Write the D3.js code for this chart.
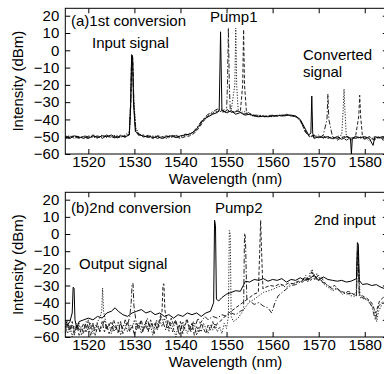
<!DOCTYPE html>
<html><head><meta charset="utf-8">
<script src="https://cdn.jsdelivr.net/npm/d3@7"></script>
<style>
body{margin:0;background:#fff}
svg{display:block}
text{font-family:"Liberation Sans",Arial,sans-serif;fill:#000}
</style>
</head><body>
<svg id="c" width="384" height="374"></svg>
<script>
// ---------- tick labels ----------
const xTicks = [1520,1530,1540,1550,1560,1570,1580];
const yTicks = [20,10,0,-10,-20,-30,-40,-50,-60];
const xDomain = [1515,1585];
const yDomain = [-60,24.3];

// ---------- panel (a): 1st conversion, [wavelength nm, dBm] ----------
const a1 = [[1515,-50.5],[1516,-51],[1517,-49.5],[1518,-50.5],[1519,-50],[1520,-51],[1521,-49.5],[1522,-50.5],[1523,-49.5],[1524,-50],[1525,-49],[1526,-50.5],[1527,-49.5],[1528,-50],[1528.9,-49],[1529.2,-30],[1529.4,-2.5],[1529.6,-3],[1529.8,-30],[1530.2,-47],[1531,-48.5],[1532,-50],[1533,-49.5],[1534,-50.5],[1535,-50],[1536,-51],[1537,-50],[1538,-49.5],[1539,-50.5],[1540,-49.5],[1541,-49],[1542,-48.5],[1543,-47],[1544,-44],[1545,-40],[1546,-38.5],[1547,-37],[1548,-36],[1548.4,-35],[1548.6,-5],[1548.7,10.7],[1548.8,-5],[1549,-35],[1550,-36],[1551,-35],[1552,-37],[1553,-36],[1554,-37.5],[1555,-37],[1556,-38],[1557,-38.5],[1558,-38],[1559,-38.5],[1560,-38],[1561,-38],[1562,-37.5],[1563,-37.5],[1564,-37.5],[1565,-38],[1566,-40],[1567,-45],[1567.8,-49],[1568.3,-48],[1568.5,-26.5],[1568.7,-48],[1569,-51],[1570,-50],[1571,-50.5],[1572,-50],[1573,-51],[1574,-50],[1575,-51.5],[1576,-50],[1576.9,-51],[1577.1,-60],[1577.3,-51],[1578,-50],[1579,-50.5],[1580,-50],[1581,-51],[1581.8,-55],[1582.2,-50],[1583,-50.5],[1584,-50],[1585,-50.5]];
const a2 = [[1515,-49.5],[1516,-50.5],[1517,-50],[1518,-51],[1519,-49.5],[1520,-50],[1521,-50.5],[1522,-49.5],[1523,-50.5],[1524,-49],[1525,-50.5],[1526,-50],[1527,-49],[1528,-50.5],[1528.9,-48],[1529.2,-28],[1529.4,-3.5],[1529.6,-4],[1529.9,-32],[1530.3,-46],[1531,-49],[1532,-49.5],[1533,-50.5],[1534,-49.5],[1535,-51],[1536,-50],[1537,-49.5],[1538,-50.5],[1539,-49.5],[1540,-50],[1541,-48.5],[1542,-49],[1543,-46.5],[1544,-43],[1545,-39.5],[1546,-37],[1547,-35.5],[1548,-34],[1549,-36],[1550,-35],[1550.2,-20],[1550.4,12.9],[1550.6,-20],[1550.8,-34],[1551.5,-36],[1552.5,-35],[1553.5,-37],[1554.5,-36.5],[1555.5,-38],[1556.5,-37.5],[1557.5,-38],[1558.5,-38.5],[1559.5,-37.5],[1560.5,-38],[1561.5,-37.5],[1562.5,-38],[1563.5,-37.5],[1564.5,-38],[1565.5,-39],[1566.3,-42],[1567,-47],[1568,-50],[1569,-49],[1570,-51],[1571,-49],[1571.8,-40],[1572,-25.3],[1572.2,-40],[1573,-50],[1574,-51],[1575,-50],[1576,-52],[1577,-50.5],[1578,-51],[1579,-50],[1580,-51.5],[1581,-50],[1582,-52],[1583,-50.5],[1584,-51],[1585,-50]];
const a3 = [[1515,-50],[1516,-49.5],[1517,-51],[1518,-50],[1519,-51],[1520,-49.5],[1521,-50],[1522,-51],[1523,-49],[1524,-50.5],[1525,-50],[1526,-49],[1527,-50.5],[1528,-49],[1528.9,-47],[1529.2,-31],[1529.4,-4],[1529.6,-3.5],[1529.9,-30],[1530.3,-45],[1531,-48],[1532,-50.5],[1533,-49],[1534,-50],[1535,-49.5],[1536,-50.5],[1537,-51],[1538,-50],[1539,-49],[1540,-50.5],[1541,-49.5],[1542,-48],[1543,-47.5],[1544,-43.5],[1545,-40.5],[1546,-37.5],[1547,-36],[1548,-35],[1549,-34],[1550,-36.5],[1551,-35],[1551.8,-20],[1552,12.9],[1552.2,-20],[1552.5,-34],[1553,-36],[1554,-35.5],[1555,-37],[1556,-38],[1557,-37.5],[1558,-38],[1559,-38],[1560,-38.5],[1561,-37.5],[1562,-38],[1563,-37.5],[1564,-38],[1565,-38.5],[1566,-41],[1567,-46],[1568,-49.5],[1569,-50.5],[1570,-49],[1571,-51],[1572,-50],[1573,-51.5],[1574,-50],[1575,-49],[1575.3,-35],[1575.5,-22.4],[1575.7,-35],[1576,-50],[1577,-52],[1578,-50],[1579,-51],[1580,-50],[1581,-52.5],[1582,-50],[1583,-51],[1584,-50],[1585,-51]];
const a4 = [[1515,-51],[1516,-50],[1517,-49.5],[1518,-50],[1519,-51],[1520,-50.5],[1521,-49],[1522,-50],[1523,-51],[1524,-49.5],[1525,-50],[1526,-51],[1527,-50],[1528,-49.5],[1528.9,-48.5],[1529.2,-33],[1529.4,-5],[1529.6,-4.5],[1529.9,-33],[1530.3,-47],[1531,-49.5],[1532,-49],[1533,-50],[1534,-51],[1535,-49.5],[1536,-50],[1537,-50.5],[1538,-49],[1539,-50],[1540,-51],[1541,-50],[1542,-49.5],[1543,-48],[1544,-45],[1545,-41],[1546,-38],[1547,-36.5],[1548,-35.5],[1549,-35],[1550,-34],[1551,-36],[1552,-35],[1553,-35.5],[1553.5,-20],[1553.7,12],[1553.9,-20],[1554.3,-35],[1555,-36.5],[1556,-37.5],[1557,-38],[1558,-38.5],[1559,-38],[1560,-37.5],[1561,-38],[1562,-38],[1563,-37],[1564,-38],[1565,-38],[1566,-40.5],[1567,-46.5],[1568,-50],[1569,-49.5],[1570,-50.5],[1571,-49.5],[1572,-51],[1573,-50],[1574,-52],[1575,-50.5],[1576,-49.5],[1577,-51],[1578,-50],[1578.7,-38],[1578.9,-26],[1579.1,-38],[1579.5,-50],[1580,-51],[1581,-50],[1582,-51.5],[1583,-50],[1584,-52],[1585,-50.5]];

// ---------- panel (b): 2nd conversion ----------
const b1 = [[1515,-50],[1515.5,-53],[1516,-51],[1516.5,-46],[1516.7,-31],[1516.9,-31.5],[1517.1,-50],[1517.5,-55],[1518,-51],[1519,-50],[1520,-49],[1521,-50],[1522,-48],[1523,-49],[1524,-46],[1525,-45],[1525.8,-43],[1526.5,-45],[1527.5,-47],[1528.5,-48],[1529.5,-46],[1530.5,-45],[1531.5,-44],[1532.5,-46],[1533.5,-45],[1534.5,-47],[1535.5,-46],[1536.5,-48],[1537.5,-47],[1538.5,-49],[1539.5,-47],[1540.5,-48],[1541.5,-46],[1542.5,-47],[1543.5,-46],[1544.5,-48],[1545.5,-46],[1546.5,-45],[1547.2,-40],[1547.4,8],[1547.6,5],[1547.8,-38],[1548.3,-39],[1549,-37],[1550,-35],[1550.8,-34.3],[1552,-33],[1553,-33.4],[1554.1,-27.5],[1555,-28],[1556,-26.5],[1557,-27],[1558,-26],[1559,-27.5],[1560,-26.5],[1561,-27],[1562,-26],[1563,-28],[1564,-26.5],[1565,-27],[1566,-25.5],[1567,-27],[1568,-26],[1569,-24],[1570,-27],[1571,-25],[1572,-26.5],[1573,-27],[1574,-27.5],[1575,-27],[1576,-28],[1577,-27.5],[1578.2,-26],[1578.4,-5],[1578.6,-6],[1578.8,-27],[1579.5,-29.4],[1580.5,-29],[1581.5,-30],[1582.5,-29.5],[1583.5,-31],[1584.5,-32],[1585,-33.4]];
const b2 = [[1515,-52],[1515.5,-58],[1516,-53],[1516.5,-60],[1517,-54],[1517.5,-56],[1518,-52],[1518.5,-59],[1519,-55],[1519.5,-53],[1520,-57],[1520.5,-52],[1521,-58],[1521.5,-54],[1522,-51],[1522.5,-49],[1522.9,-45],[1523.1,-31.5],[1523.3,-45],[1523.7,-50],[1524,-55],[1524.5,-52],[1525,-58],[1525.5,-53],[1526,-56],[1526.5,-51],[1527,-59],[1527.5,-54],[1528,-52],[1528.5,-57],[1529,-53],[1529.5,-55],[1530,-50],[1530.5,-56],[1531,-52],[1531.5,-58],[1532,-54],[1532.5,-51],[1533,-56],[1533.5,-53],[1534,-59],[1534.5,-52],[1535,-55],[1535.5,-50],[1536,-54],[1536.5,-49],[1537,-53],[1537.5,-57],[1538,-52],[1538.5,-55],[1539,-60],[1539.5,-53],[1540,-56],[1540.5,-51],[1541,-55],[1541.5,-58],[1542,-53],[1542.5,-56],[1543,-52],[1543.5,-59],[1544,-54],[1544.5,-57],[1545,-52],[1545.5,-55],[1546,-58],[1546.5,-53],[1547,-56],[1547.5,-52],[1548,-57],[1548.5,-54],[1549,-58],[1549.5,-52],[1550,-55],[1550.4,-48],[1550.6,2],[1550.8,0],[1551,-48],[1551.5,-51],[1552.5,-49],[1553.5,-45],[1554.8,-40],[1556,-38],[1557,-36],[1558,-34],[1559.9,-32.4],[1561,-31],[1562,-30],[1563,-31],[1564,-29],[1565,-28.5],[1566.4,-27.5],[1567,-25],[1567.6,-28],[1568.2,-22],[1568.6,-20.6],[1569.1,-27],[1569.6,-23],[1570.2,-26],[1571,-29],[1572.2,-31.4],[1573,-33],[1574,-32],[1575.2,-35.3],[1576,-34],[1577,-36],[1578.1,-36.3],[1578.3,-20],[1578.5,-8],[1578.7,-20],[1579,-37],[1580,-38],[1581,-39.2],[1582,-44],[1582.6,-51],[1583,-45],[1583.9,-40],[1585,-38]];
const b3 = [[1515,-55],[1515.5,-51],[1516,-57],[1516.5,-53],[1517,-59],[1517.5,-52],[1518,-56],[1518.5,-54],[1519,-58],[1519.5,-51],[1520,-54],[1520.5,-59],[1521,-53],[1521.5,-56],[1522,-52],[1522.5,-57],[1523,-54],[1523.5,-50],[1524,-56],[1524.5,-53],[1525,-51],[1525.5,-57],[1526,-54],[1526.5,-58],[1527,-52],[1527.5,-55],[1528,-50],[1528.5,-53],[1529,-48],[1529.3,-40],[1529.5,-29],[1529.7,-28.8],[1529.9,-42],[1530.3,-50],[1530.8,-55],[1531.3,-51],[1531.8,-57],[1532.3,-53],[1532.8,-49],[1533.3,-55],[1533.8,-52],[1534.3,-58],[1534.8,-50],[1535.3,-54],[1535.8,-48],[1536.3,-52],[1536.8,-56],[1537.3,-50],[1537.8,-53],[1538.3,-57],[1538.8,-51],[1539.3,-54],[1539.8,-59],[1540.3,-52],[1540.8,-55],[1541.3,-50],[1541.8,-54],[1542.3,-57],[1542.8,-51],[1543.3,-53],[1543.8,-49],[1544.3,-52],[1544.8,-50],[1545.3,-48],[1546,-50],[1547,-48],[1548,-49],[1549,-47],[1550,-48],[1551,-46],[1552,-47],[1553,-45],[1553.7,-44],[1553.9,0.4],[1554.1,-2],[1554.4,-38],[1555,-39],[1556,-41],[1557,-40],[1558,-42],[1559,-43],[1559.8,-46],[1560.5,-40],[1561.2,-36],[1562.1,-34],[1563,-32],[1564,-30],[1565,-29.5],[1565.7,-28.5],[1566.5,-27],[1567.2,-24],[1567.8,-27],[1568.5,-22],[1569.2,-26],[1570,-24],[1570.8,-28],[1572,-30],[1573,-32],[1574,-31.5],[1575,-34],[1576,-35],[1577,-34.5],[1578.2,-36],[1578.4,-12],[1578.6,-10],[1578.8,-36],[1579.5,-37],[1580.5,-38],[1581.5,-42],[1582.3,-50],[1583,-42],[1584,-39],[1585,-37]];
const b4 = [[1515,-58],[1515.5,-53],[1516,-56],[1516.5,-51],[1517,-57],[1517.5,-53],[1518,-59],[1518.5,-55],[1519,-52],[1519.5,-57],[1520,-50],[1520.5,-55],[1521,-52],[1521.5,-59],[1522,-54],[1522.5,-56],[1523,-51],[1523.5,-57],[1524,-53],[1524.5,-58],[1525,-55],[1525.5,-50],[1526,-54],[1526.5,-57],[1527,-51],[1527.5,-58],[1528,-55],[1528.5,-51],[1529,-57],[1529.5,-53],[1530,-59],[1530.5,-52],[1531,-55],[1531.5,-50],[1532,-56],[1532.5,-53],[1533,-57],[1533.5,-50],[1534,-54],[1534.5,-52],[1535,-56],[1535.5,-49],[1536,-45],[1536.2,-29.5],[1536.4,-29],[1536.6,-44],[1537,-50],[1537.5,-55],[1538,-49],[1538.5,-53],[1539,-50],[1539.5,-56],[1540,-51],[1540.5,-58],[1541,-53],[1541.5,-50],[1542,-56],[1542.5,-52],[1543,-59],[1543.5,-54],[1544,-57],[1544.5,-52],[1545,-55],[1545.5,-58],[1546,-53],[1546.5,-56],[1547,-51],[1547.5,-55],[1548,-52],[1549,-50],[1550,-47],[1551,-45],[1552,-43],[1553,-41],[1554,-39],[1555,-37],[1556,-35],[1556.9,-34],[1557.2,-10],[1557.4,8],[1557.6,-10],[1557.9,-32],[1558.5,-31],[1559.5,-30],[1560.5,-30.5],[1561.5,-29],[1562.5,-30],[1563.5,-28.5],[1564.5,-29],[1565.5,-27.5],[1566.5,-28],[1567.5,-25.5],[1568.3,-27],[1569,-23.5],[1569.8,-27.5],[1570.5,-25],[1571.5,-29],[1572.5,-31],[1573.5,-30],[1574.5,-33],[1575.5,-34],[1576.5,-33.5],[1577.5,-35],[1578.2,-35],[1578.4,-10],[1578.6,-12],[1578.8,-35],[1579.5,-36],[1580.5,-37.5],[1581.5,-40],[1582.4,-46],[1583.2,-39],[1584,-37],[1585,-35.5]];

// ---------- drawing ----------
const svg = d3.select("#c");
const W = {left:65.3, right:387.8};
const x = d3.scaleLinear().domain(xDomain).range([W.left, W.right]);

const dashes = {solid:null, dashdot:"5,2,1.2,2", dotted:"1.2,1.6", dashed:"3.5,2"};

const panels = [
  {id:"a", top:8.3, bottom:154,
   series:[{d:a4,s:"dashed"},{d:a3,s:"dotted"},{d:a2,s:"dashdot"},{d:a1,s:"solid"}],
   notes:[{t:"(a)1st conversion",x:71,y:26},{t:"Input signal",x:92,y:48},{t:"Pump1",x:210,y:22},
          {t:"Converted",x:303,y:60},{t:"signal",x:303,y:77}]},
  {id:"b", top:192.3, bottom:337,
   series:[{d:b4,s:"dashed"},{d:b3,s:"dashdot"},{d:b2,s:"dotted"},{d:b1,s:"solid"}],
   notes:[{t:"(b)2nd conversion",x:71,y:213},{t:"Pump2",x:215,y:213},{t:"2nd input",x:314,y:225},
          {t:"Output signal",x:79,y:269}]}
];

panels.forEach(p => {
  const y = d3.scaleLinear().domain(yDomain).range([p.bottom, p.top]);
  const g = svg.append("g");
  const clipId = "clip-" + p.id;
  svg.append("clipPath").attr("id", clipId).append("rect")
     .attr("x", W.left).attr("y", p.top).attr("width", W.right-W.left).attr("height", p.bottom-p.top);

  const line = d3.line().x(d => x(d[0])).y(d => y(d[1]));
  const lg = g.append("g").attr("clip-path", `url(#${clipId})`);
  p.series.forEach(s => {
    lg.append("path").datum(s.d).attr("d", line)
      .attr("fill","none").attr("stroke", s.s==="solid" ? "#000" : "#222")
      .attr("stroke-width", 1).attr("stroke-dasharray", dashes[s.s]);
  });

  // axes with inward ticks
  const xb = d3.axisBottom(x).tickValues(xTicks).tickSizeInner(-5).tickSizeOuter(0).tickPadding(2).tickFormat(d3.format("d"));
  const xt = d3.axisTop(x).tickValues(xTicks).tickSizeInner(-5).tickSizeOuter(0).tickFormat("");
  const yl = d3.axisLeft(y).tickValues(yTicks).tickSizeInner(-5).tickSizeOuter(0).tickPadding(6);
  const yr = d3.axisRight(y).tickValues(yTicks).tickSizeInner(-5).tickSizeOuter(0).tickFormat("");
  [[xb,`translate(0,${p.bottom})`],[xt,`translate(0,${p.top})`],[yl,`translate(${W.left},0)`],[yr,`translate(${W.right},0)`]]
    .forEach(([ax,tr]) => {
      const a = g.append("g").attr("transform", tr).call(ax);
      a.select(".domain").remove();
      a.selectAll("line").attr("stroke","#000");
      a.selectAll("text").attr("font-size", 15).attr("font-family","Liberation Sans, Arial, sans-serif").attr("fill","#000");
    });
  g.append("rect").attr("x", W.left).attr("y", p.top).attr("width", W.right-W.left).attr("height", p.bottom-p.top)
    .attr("fill","none").attr("stroke","#000").attr("stroke-width",1);

  g.append("text").attr("x", (W.left+W.right)/2 - 1).attr("y", p.bottom + 30)
    .attr("text-anchor","middle").attr("font-size",15).text("Wavelength (nm)");
  g.append("text").attr("transform", `translate(23,${(p.top+p.bottom)/2}) rotate(-90)`)
    .attr("text-anchor","middle").attr("font-size",15).text("Intensity (dBm)");

  p.notes.forEach(n => g.append("text").attr("x", n.x).attr("y", n.y).attr("font-size",15).text(n.t));
});
</script>
</body></html>
